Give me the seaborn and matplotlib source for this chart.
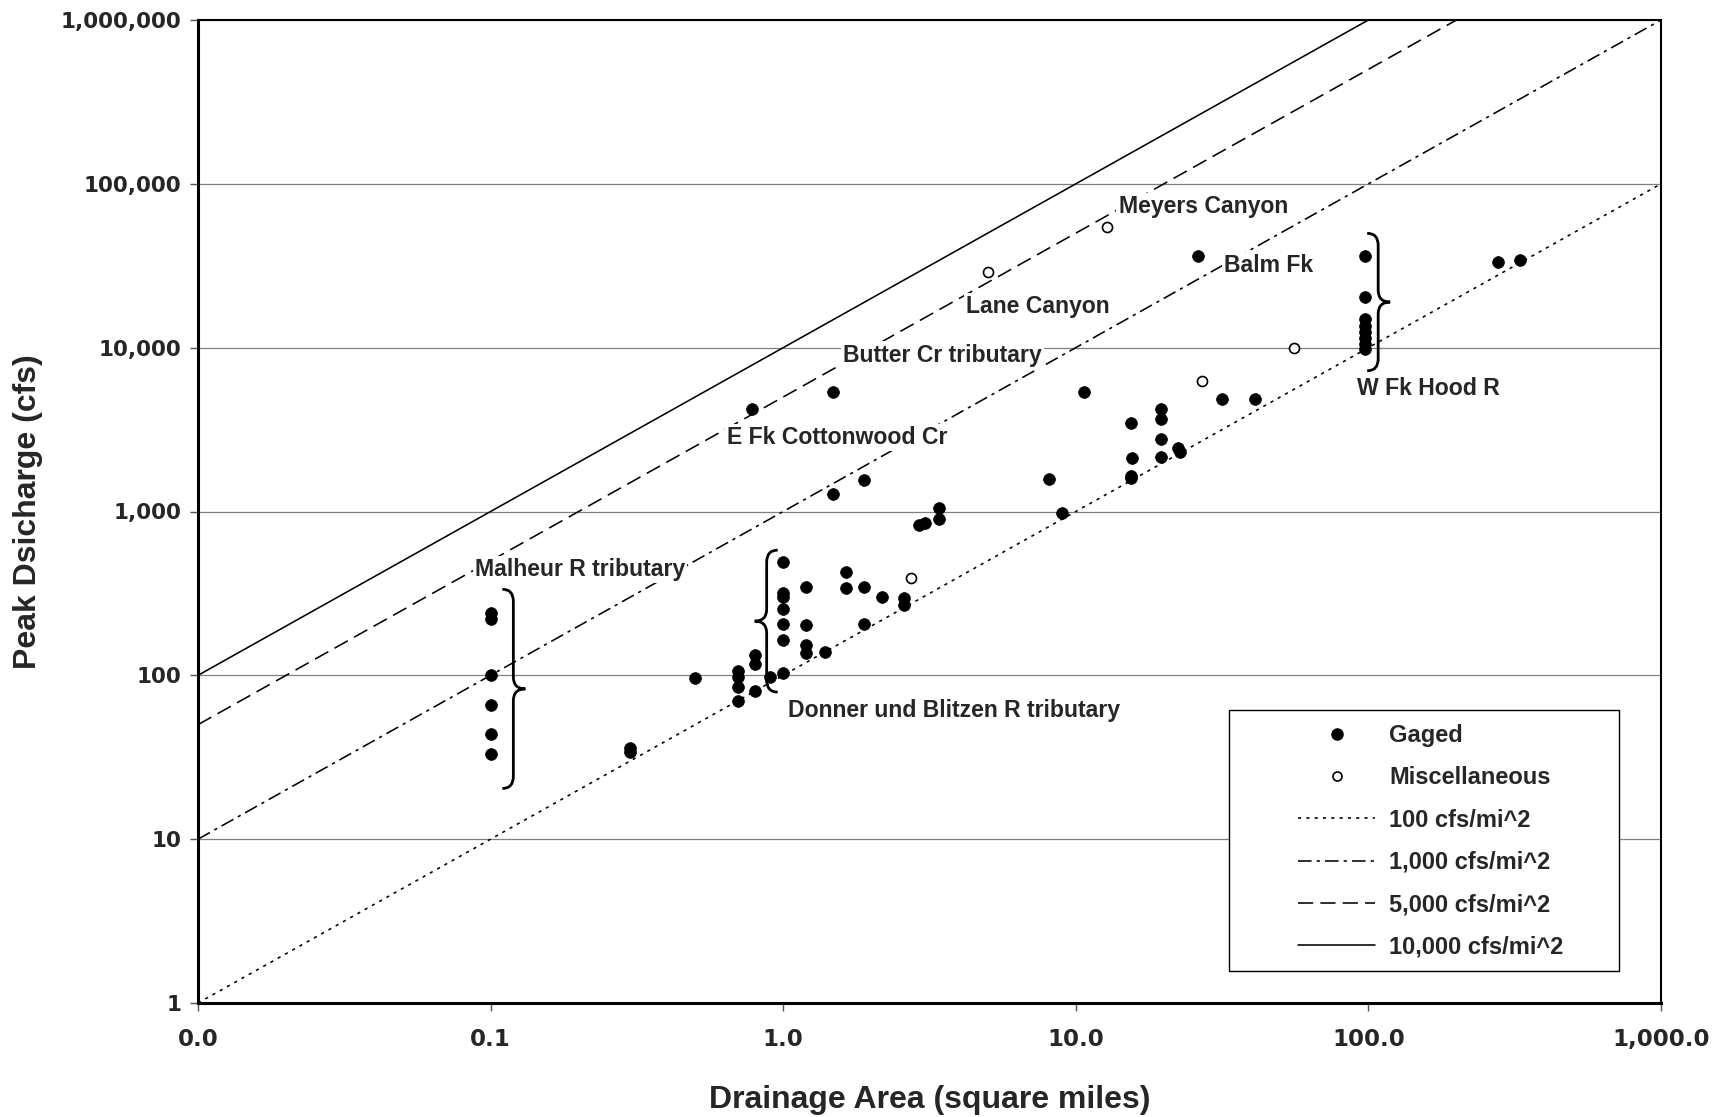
import numpy as np
import pandas as pd
import matplotlib
matplotlib.use("Agg")
import matplotlib.pyplot as plt
import seaborn as sns
from matplotlib.path import Path
from matplotlib.patches import PathPatch, Rectangle
from matplotlib.lines import Line2D
from matplotlib.transforms import IdentityTransform
from matplotlib.ticker import FixedLocator, FixedFormatter, NullLocator

# ---------------------------------------------------------------- data
gaged_area = [0.1, 0.1, 0.1, 0.1, 0.1, 0.1,
              0.3, 0.3, 0.5,
              0.7, 0.7, 0.7, 0.7,
              0.8, 0.8, 0.8, 0.9,
              1.0, 1.0, 1.0, 1.0, 1.0, 1.0, 1.0,
              1.2, 1.2, 1.2, 1.2, 1.39,
              1.64, 1.64, 1.89, 1.89, 2.18, 2.59, 2.59,
              0.78, 1.48, 1.48, 1.89,
              2.91, 3.06, 3.41, 3.41,
              8.1, 8.95, 10.7,
              15.5, 15.6, 15.5, 15.5,
              19.6, 19.6, 19.6, 19.6,
              22.4, 22.7, 26.2, 31.7, 41.1,
              97.0, 97.0, 97.0, 97.0, 97.0, 97.0, 97.0, 97.0,
              277.0, 330.0]
gaged_peak = [240, 220, 100, 66, 44, 33,
              36, 34, 96,
              106, 98, 85, 70,
              134, 117, 80, 98,
              490, 316, 300, 253, 207, 164, 104,
              347, 202, 153, 136, 139,
              425, 339, 347, 207, 302, 295, 268,
              4250, 5340, 1270, 1555,
              826, 846, 1045, 895,
              1590, 975, 5330,
              3450, 2130, 1650, 1600,
              4220, 3660, 2755, 2160,
              2430, 2310, 36200, 4860, 4860,
              36200, 20500, 15000, 13500, 12500, 11500, 10500, 9800,
              33400, 34300]

misc_area = [2.73, 5.02, 12.75, 27.0, 55.7]
misc_peak = [391, 28800, 54200, 6300, 10000]

unit_rates = [100, 1000, 5000, 10000]
rate_labels = ["100 cfs/mi^2", "1,000 cfs/mi^2", "5,000 cfs/mi^2", "10,000 cfs/mi^2"]
line_area_ends = [0.01, 1000.0]

x_ticks = [0.01, 0.1, 1, 10, 100, 1000]
x_tick_labels = ["0.0", "0.1", "1.0", "10.0", "100.0", "1,000.0"]
y_ticks = [1, 10, 100, 1000, 10000, 100000, 1000000]
y_tick_labels = ["1", "10", "100", "1,000", "10,000", "100,000", "1,000,000"]

site_names = ["Meyers Canyon", "Balm Fk", "Lane Canyon", "Butter Cr tributary",
              "E Fk Cottonwood Cr", "W Fk Hood R", "Malheur R tributary",
              "Donner und Blitzen R tributary"]

# ---------------------------------------------------------------- layout
site_label_pos = [(14.0, 72400), (32.1, 31900), (4.21, 17800), (1.605, 9020),
                  (0.644, 2834), (91.6, 5642), (0.0885, 443), (1.041, 61.3)]

# brace: (x, y_top, y_bottom, facing)
braces = [(0.1196, 335, 20.4, "right"),
          (0.878, 581, 79, "left"),
          (108.0, 49870, 7230, "right")]

LINE_W = 1.15
line_dashes = {100: (2.0, 3.2), 1000: (8.5, 3.2, 2.0, 3.2), 5000: (9.5, 4.5), 10000: ""}

# ---------------------------------------------------------------- style
sns.set_theme(style="white")
plt.rcParams["font.family"] = ["Liberation Sans", "DejaVu Sans"]
plt.rcParams["font.weight"] = "bold"
plt.rcParams["axes.labelweight"] = "bold"

fig = plt.figure(figsize=(17.25, 11.17), dpi=100)
ax = fig.add_axes([198 / 1725, 114 / 1117, 1463 / 1725, 983 / 1117])
ax.set_xscale("log")
ax.set_yscale("log")
ax.set_xlim(0.01, 1000)
ax.set_ylim(1, 1e6)

# reference lines of constant unit discharge
lines_df = pd.DataFrame(
    [(r, a, r * a) for r in unit_rates for a in line_area_ends],
    columns=["rate", "area", "peak"],
)
sns.lineplot(data=lines_df, x="area", y="peak", style="rate", dashes=line_dashes,
             color="black", linewidth=LINE_W, estimator=None, sort=False,
             legend=False, ax=ax, zorder=2)

gaged_df = pd.DataFrame({"area": gaged_area, "peak": gaged_peak})
misc_df = pd.DataFrame({"area": misc_area, "peak": misc_peak})
sns.scatterplot(data=gaged_df, x="area", y="peak", color="black", edgecolor="black",
                s=72, linewidth=0.5, ax=ax, zorder=3, legend=False)
sns.scatterplot(data=misc_df, x="area", y="peak", facecolor="white", edgecolor="black",
                s=52, linewidth=1.2, ax=ax, zorder=3, legend=False)

# axes, ticks, grid
ax.xaxis.set_major_locator(FixedLocator(x_ticks))
ax.xaxis.set_major_formatter(FixedFormatter(x_tick_labels))
ax.yaxis.set_major_locator(FixedLocator(y_ticks))
ax.yaxis.set_major_formatter(FixedFormatter(y_tick_labels))
ax.xaxis.set_minor_locator(NullLocator())
ax.yaxis.set_minor_locator(NullLocator())
ax.tick_params(axis="both", which="major", direction="out", length=6, width=1.0,
               color="#555555", bottom=True, left=True)
ax.tick_params(axis="x", pad=12)
ax.tick_params(axis="y", pad=6)
for lbl in ax.get_xticklabels():
    lbl.set_fontfamily("DejaVu Sans")
    lbl.set_fontweight("bold")
    lbl.set_fontsize(16.5)
for lbl in ax.get_yticklabels():
    lbl.set_fontfamily("DejaVu Sans")
    lbl.set_fontweight("bold")
    lbl.set_fontsize(15.5)

ax.yaxis.grid(True, color="#808080", linewidth=0.9)
ax.xaxis.grid(False)
ax.set_axisbelow(True)
for side in ["left", "bottom"]:
    ax.spines[side].set_linewidth(2.2)
    ax.spines[side].set_color("black")
for side in ["top", "right"]:
    ax.spines[side].set_linewidth(1.5)
    ax.spines[side].set_color("black")

ax.set_xlabel("Drainage Area (square miles)", fontsize=23, fontweight="bold")
ax.set_ylabel("Peak Dsicharge (cfs)", fontsize=23, fontweight="bold")
ax.xaxis.set_label_coords(0.5, -0.083)
ax.yaxis.set_label_coords(-0.106, 0.5)

# site labels
for name, (sx, sy) in zip(site_names, site_label_pos):
    ax.text(sx, sy, name, fontsize=16.6, fontweight="bold", ha="left", va="center",
            zorder=4, bbox=dict(facecolor="white", edgecolor="none", pad=1.5))


def draw_brace(x, y_top, y_bottom, facing, tip_px=12, curl_px=11, lw=2.0):
    tx = ax.transData
    x0, yt = tx.transform((x, y_top))
    _, yb = tx.transform((x, y_bottom))
    ym = (yt + yb) / 2
    s = 1 if facing == "right" else -1
    r = 12
    verts = [
        (x0 - s * curl_px, yt),
        (x0, yt), (x0, yt - r),
        (x0, ym + r),
        (x0, ym), (x0 + s * tip_px, ym),
        (x0, ym), (x0, ym - r),
        (x0, yb + r),
        (x0, yb), (x0 - s * curl_px, yb),
    ]
    codes = [Path.MOVETO, Path.CURVE3, Path.CURVE3, Path.LINETO,
             Path.CURVE3, Path.CURVE3, Path.CURVE3, Path.CURVE3,
             Path.LINETO, Path.CURVE3, Path.CURVE3]
    patch = PathPatch(Path(verts, codes), fill=False, edgecolor="black", lw=lw,
                      transform=IdentityTransform(), zorder=4)
    fig.add_artist(patch)


for bx, byt, byb, facing in braces:
    draw_brace(bx, byt, byb, facing)

# legend box
ax.add_patch(Rectangle((0.705, 0.0326), 0.266, 0.265, transform=ax.transAxes,
                       facecolor="white", edgecolor="black", lw=1.0, zorder=4))
handles = [
    Line2D([], [], ls="none", marker="o", ms=8, mfc="black", mec="black"),
    Line2D([], [], ls="none", marker="o", ms=6.5, mfc="white", mec="black", mew=1.2),
]
for rate in unit_rates:
    d = line_dashes[rate]
    if d:
        handles.append(Line2D([], [], color="black", lw=LINE_W, dashes=d))
    else:
        handles.append(Line2D([], [], color="black", lw=LINE_W))
labels = ["Gaged", "Miscellaneous"] + rate_labels
leg = ax.legend(handles, labels, loc="upper left", bbox_to_anchor=(0.752, 0.284),
                frameon=False, fontsize=17, handlelength=3.26, handletextpad=0.6,
                labelspacing=0.82, borderpad=0, borderaxespad=0)
leg.set_zorder(5)
for t in leg.get_texts():
    t.set_fontweight("bold")

fig.savefig("out.png", dpi=100)
